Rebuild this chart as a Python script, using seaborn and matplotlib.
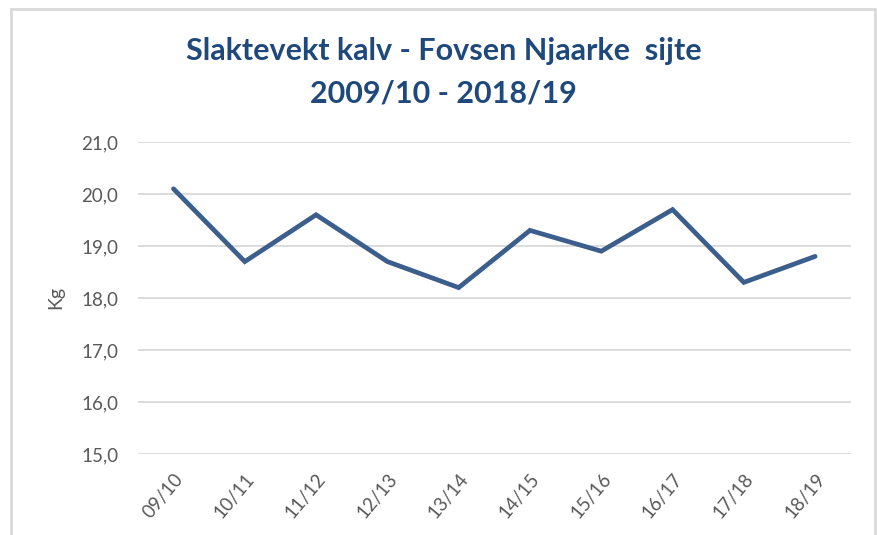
import matplotlib
matplotlib.use("Agg")
import matplotlib.pyplot as plt
from matplotlib.lines import Line2D
import seaborn as sns
import pandas as pd

seasons = ["09/10", "10/11", "11/12", "12/13", "13/14", "14/15", "15/16", "16/17", "17/18", "18/19"]
weights = [20.1, 18.7, 19.6, 18.7, 18.2, 19.3, 18.9, 19.7, 18.3, 18.8]
y_ticks = [15.0, 16.0, 17.0, 18.0, 19.0, 20.0, 21.0]

sns.set_theme(style="white")
plt.rcParams['font.family'] = ['Lato', 'DejaVu Sans']

df = pd.DataFrame({"season": seasons, "kg": weights})

fig = plt.figure(figsize=(8.78, 5.35), dpi=100)
ax = fig.add_axes([0.157, 0.1514, 0.812, 0.5832])

sns.lineplot(data=df, x="season", y="kg", ax=ax, color="#3B5E8C", linewidth=3.4,
             sort=False, solid_capstyle="round", solid_joinstyle="miter")

ax.set_ylim(15, 21)
ax.set_xlim(-0.5, len(seasons) - 0.5)
ax.set_yticks(y_ticks)
ax.set_yticklabels([f"{v:.1f}".replace(".", ",") for v in y_ticks])
ax.set_xticks(range(len(seasons)))
ax.set_xticklabels(seasons, rotation=50, ha="right", rotation_mode="anchor")
ax.grid(axis="y", color="#D9D9D9", linewidth=1.3)
ax.set_axisbelow(True)
for s in ax.spines.values():
    s.set_visible(False)
ax.tick_params(axis="both", length=0, labelsize=13.5, labelcolor="#595959")
ax.tick_params(axis="y", pad=14)
ax.tick_params(axis="x", pad=12)
ax.set_xlabel("")
ax.set_ylabel("Kg", fontsize=14, color="#595959", labelpad=12)

fig.text(0.505, 0.905, "Slaktevekt kalv - Fovsen Njaarke  sijte", ha="center", va="center",
         fontsize=22, fontweight="bold", color="#1F497D")
fig.text(0.505, 0.825, "2009/10 - 2018/19", ha="center", va="center",
         fontsize=22, fontweight="bold", color="#1F497D")

border = "#D9D9D9"
fig.add_artist(Line2D([11/878, 11/878], [0, 1 - 9/535], transform=fig.transFigure, color=border, lw=2))
fig.add_artist(Line2D([11/878, 875/878], [1 - 9/535, 1 - 9/535], transform=fig.transFigure, color=border, lw=2))
fig.add_artist(Line2D([875/878, 875/878], [0, 1 - 9/535], transform=fig.transFigure, color=border, lw=2))

fig.savefig("out.png", dpi=100)
